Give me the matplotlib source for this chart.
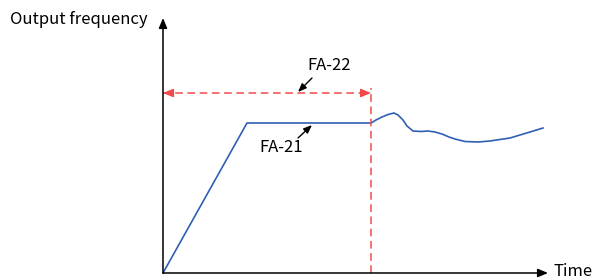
import matplotlib
matplotlib.use('Agg')
import matplotlib.pyplot as plt

# schematic output frequency vs time (arbitrary units)
time = [0, 84, 208, 213, 219, 225, 231, 235, 240, 244, 250, 258, 265, 272,
        279, 286, 292, 302, 315, 327, 337, 347, 357, 367, 380]
freq = [0, 150, 150, 153, 156, 158.5, 160, 158, 153, 147, 142, 141.5, 142,
        141, 139, 136, 134, 131.5, 131, 132, 133.5, 135, 138, 141, 145]

T_ACC = 208          # FA-22 span end
F_MARK = 180         # level of the FA-22 dimension line
T_END, F_END = 385, 255

BLUE = '#2f5fb3'
RED = '#f24a4a'
FONT = ['Noto Sans CJK SC', 'DejaVu Sans']

fig = plt.figure(figsize=(5.94, 2.79), dpi=100, facecolor='white')
ax = fig.add_axes([0, 0, 1, 1])
ax.set_xlim(-163, 431)
ax.set_ylim(-6, 273)
ax.axis('off')

# axes with arrows
ax.annotate('', xy=(T_END, 0), xytext=(0, 0),
            arrowprops=dict(arrowstyle='-|>,head_length=0.6,head_width=0.25',
                            color='black', lw=1.1, shrinkA=0, shrinkB=0))
ax.annotate('', xy=(0, F_END), xytext=(0, 0),
            arrowprops=dict(arrowstyle='-|>,head_length=0.6,head_width=0.25',
                            color='black', lw=1.1, shrinkA=0, shrinkB=0))
ax.text(-153, 253, 'Output frequency', fontsize=12, family=FONT,
        ha='left', va='center')
ax.text(390, 1, 'Time', fontsize=12, family=FONT, ha='left', va='center')

# frequency curve
ax.plot(time, freq, color=BLUE, lw=1.2, solid_joinstyle='round')

# FA-22 dimension
ax.plot([T_ACC, T_ACC], [0, F_MARK + 5], color=RED, lw=1.1,
        dashes=(5, 3))
ax.plot([0, T_ACC], [F_MARK, F_MARK], color=RED, lw=1.1, dashes=(5, 3))
for x0, x1 in [(10, 0), (T_ACC - 10, T_ACC)]:
    ax.annotate('', xy=(x1, F_MARK), xytext=(x0, F_MARK),
                arrowprops=dict(arrowstyle='-|>,head_length=0.6,head_width=0.25',
                                color=RED, lw=1.1, shrinkA=0, shrinkB=0))

# labels
ax.text(144, 208, 'FA-22', fontsize=12, family=FONT, ha='left', va='center')
ax.annotate('', xy=(135, 181), xytext=(149, 195),
            arrowprops=dict(arrowstyle='-|>,head_length=0.5,head_width=0.2',
                            color='black', lw=1.0, shrinkA=0, shrinkB=0))
ax.text(96, 125, 'FA-21', fontsize=12, family=FONT, ha='left', va='center')
ax.annotate('', xy=(149, 148), xytext=(135, 135),
            arrowprops=dict(arrowstyle='-|>,head_length=0.5,head_width=0.2',
                            color='black', lw=1.0, shrinkA=0, shrinkB=0))

fig.savefig('out.png', dpi=100, facecolor='white')
